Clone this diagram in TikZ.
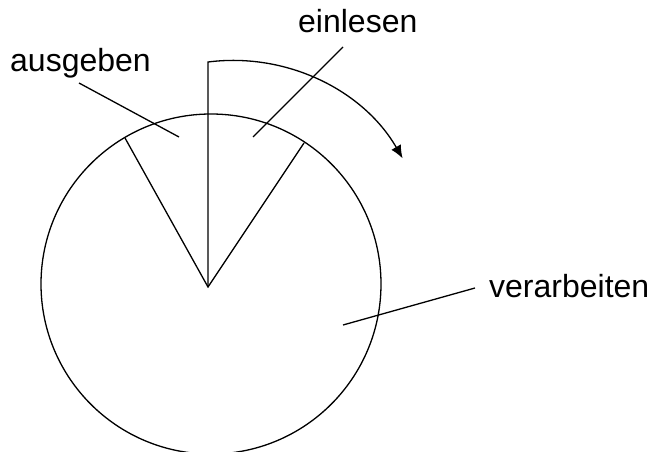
\documentclass[tikz,border=0pt]{standalone}
\usepackage{fontspec}
\setmainfont{Liberation Sans}
\usetikzlibrary{arrows.meta}

\begin{document}
\begin{tikzpicture}[x=1pt, y=-1pt,
  line/.style={line width=1.3pt},
  lbl/.style={font=\fontsize{32}{38}\selectfont, inner sep=0pt, anchor=base west}
]
  \useasboundingbox (0,0) rectangle (651,452);
  % Disk with the two sector spokes
  \coordinate (hub) at (208,287);
  \coordinate (spokeL) at (125,138);
  \coordinate (spokeR) at (304,143);
  \coordinate (turn) at (208,62);
  \draw[line] (211,284) circle[radius=170];
  \draw[line] (spokeL) -- (hub) -- (spokeR);
  % Pointer with rotation arrow
  \draw[line, -{Latex[length=13pt, width=11pt]}]
    (hub) -- (turn) arc[start angle=-97.3, end angle=-30, radius=196];
  % Labels
  \node[lbl] (ausgeben) at (10,72) {ausgeben};
  \node[lbl] (einlesen) at (298,33) {einlesen};
  \node[lbl] (verarbeiten) at (489,297) {verarbeiten};
  % Leader lines
  \coordinate (ausgebenTip) at (179,137);
  \coordinate (einlesenTip) at (253,137);
  \coordinate (verarbeitenTip) at (343,325);
  \draw[line] (79,83) -- (ausgebenTip);
  \draw[line] (343,47) -- (einlesenTip);
  \draw[line] (475,288) -- (verarbeitenTip);
\end{tikzpicture}
\end{document}
